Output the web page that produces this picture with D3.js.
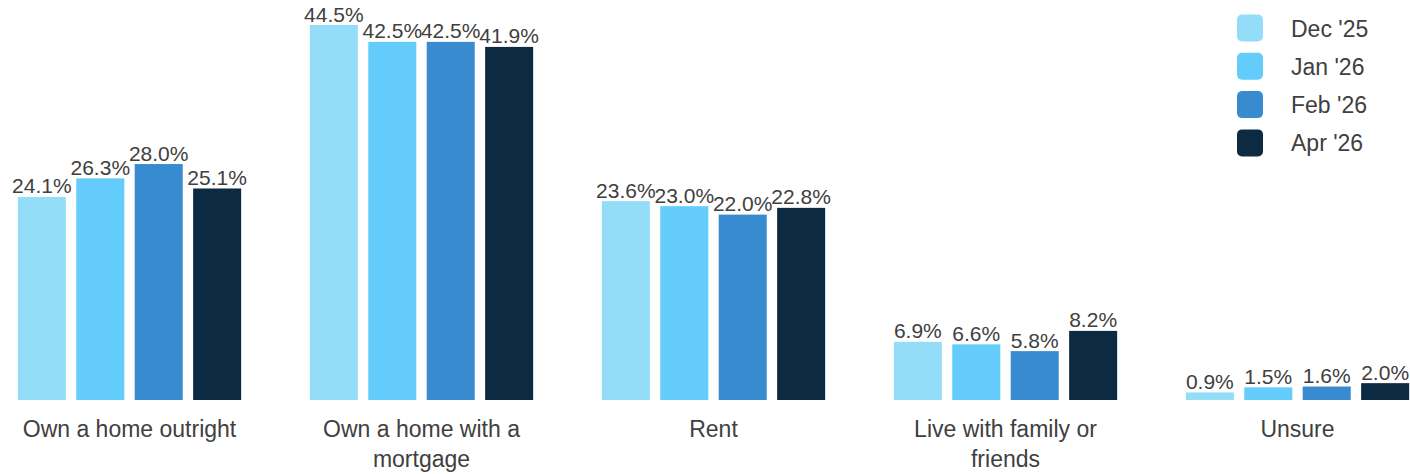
<!DOCTYPE html>
<html><head><meta charset="utf-8">
<script src="https://cdn.jsdelivr.net/npm/d3@7"></script>
<style>
html,body{margin:0;padding:0;background:#fff;}
svg{display:block;font-family:"Liberation Sans",Arial,sans-serif;}
</style></head>
<body>
<svg id="chart" width="1410" height="474"></svg>
<script>
const categories = ["Own a home outright","Own a home with a mortgage","Rent","Live with family or friends","Unsure"];
const seriesNames = ["Dec '25","Jan '26","Feb '26","Apr '26"];
const dec25 = [24.1, 44.5, 23.6, 6.9, 0.9];
const jan26 = [26.3, 42.5, 23.0, 6.6, 1.5];
const feb26 = [28.0, 42.5, 22.0, 5.8, 1.6];
const apr26 = [25.1, 41.9, 22.8, 8.2, 2.0];
const colors = ["#93DDF9","#63CCFA","#388BCF","#0D2A43"];

const series = [dec25, jan26, feb26, apr26];
const svg = d3.select("#chart");
const textColor = "#404040";

const x0 = d3.scaleBand().domain(categories).range([-16.5, 1443.5]).paddingInner(0.164).paddingOuter(0.082);
const x1 = d3.scaleBand().domain(seriesNames).range([0, x0.bandwidth()]).padding(0.178);
const y = d3.scaleLinear().domain([0, 44.5]).range([400, 25]);

const groups = svg.append("g").selectAll("g").data(categories).join("g")
  .attr("transform", d => `translate(${x0(d)},0)`);

groups.each(function(cat, ci){
  const g = d3.select(this);
  seriesNames.forEach((s, si) => {
    const v = series[si][ci];
    g.append("rect")
      .attr("x", x1(s)).attr("width", x1.bandwidth())
      .attr("y", y(v)).attr("height", y(0) - y(v))
      .attr("fill", colors[si]);
    g.append("text")
      .attr("x", x1(s) + x1.bandwidth()/2).attr("y", y(v) - 3.5)
      .attr("text-anchor","middle").attr("font-size", 21).attr("fill", textColor)
      .text(v.toFixed(1) + "%");
  });
});

// category axis labels
const xAxis = d3.axisBottom(x0).tickSize(0).tickPadding(0);
const ax = svg.append("g").attr("transform","translate(0,400)").call(xAxis);
ax.select(".domain").remove();
ax.selectAll(".tick text")
  .attr("font-size", 23).attr("fill", textColor).attr("y", 37).attr("dy", 0)
  .attr("font-family", "'Liberation Sans',Arial,sans-serif")
  .each(function(){
    const t = d3.select(this);
    const words = t.text().split(" ");
    t.text(null);
    let line = [];
    let tspan = t.append("tspan").attr("x", 0).attr("dy", 0);
    words.forEach(w => {
      line.push(w);
      tspan.text(line.join(" "));
      if (tspan.node().getComputedTextLength() > 228 && line.length > 1) {
        line.pop(); tspan.text(line.join(" "));
        line = [w];
        tspan = t.append("tspan").attr("x", 0).attr("dy", 30).text(w);
      }
    });
  });

// legend
const legend = svg.append("g");
seriesNames.forEach((s, i) => {
  const cy = 28 + i * 38.3;
  legend.append("rect").attr("x", 1237).attr("y", cy - 13.5).attr("width", 26).attr("height", 27)
    .attr("rx", 5).attr("fill", colors[i]);
  legend.append("text").attr("x", 1291).attr("y", cy + 8.5).attr("font-size", 23)
    .attr("fill", textColor).text(s);
});
</script>
</body></html>
